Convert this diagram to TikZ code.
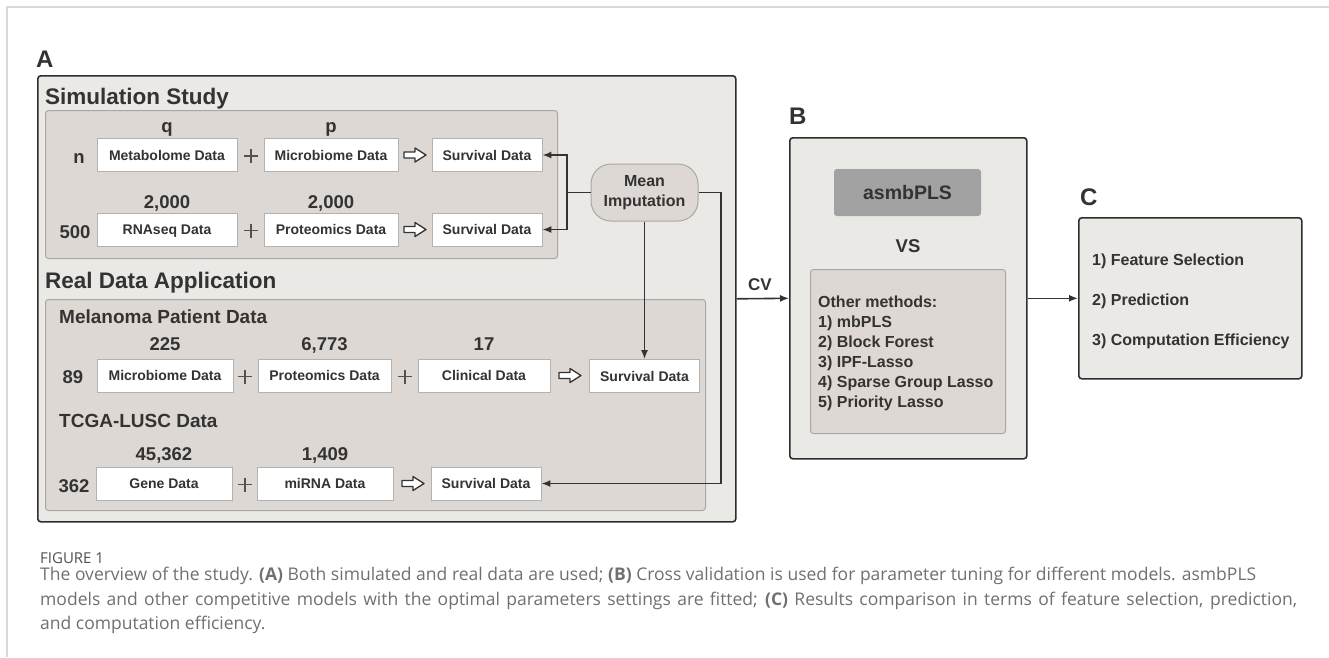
\documentclass[tikz,border=0pt]{standalone}
\usepackage{fontspec}
\setmainfont{Liberation Sans}
\newfontfamily\capfont{Open Sans}
\usetikzlibrary{arrows.meta}
\definecolor{panelbg}{HTML}{EBE9E6}
\definecolor{groupbg}{HTML}{DDD8D4}
\definecolor{groupline}{HTML}{A9A7A5}
\definecolor{darkline}{HTML}{2E2E2E}
\definecolor{txt}{HTML}{333333}
\definecolor{boxline}{HTML}{B2B2B2}
\definecolor{asmbfill}{HTML}{A2A2A2}
\definecolor{framegray}{HTML}{D9D9D9}
\definecolor{captxt}{HTML}{707070}
\definecolor{figtxt}{HTML}{505050}
\newcommand{\myfs}[1]{\fontsize{#1}{#1}\selectfont}
\tikzset{
  panel/.style={draw=darkline, line width=1.6pt, fill=panelbg, rounded corners=3pt, inner sep=0pt, anchor=north west},
  group/.style={draw=groupline, line width=1pt, fill=groupbg, rounded corners=3pt, inner sep=0pt, anchor=north west},
  databox/.style={draw=boxline, line width=0.8pt, fill=white, inner sep=0pt, minimum height=33pt,
    text height=10.2pt, text depth=0pt, text=txt, font=\bfseries\myfs{14}},
  lbl/.style={font=\bfseries\myfs{24}, text=txt, inner sep=0pt, anchor=base west},
  hdr/.style={font=\bfseries\myfs{22.5}, text=txt, inner sep=0pt, anchor=base west},
  subhdr/.style={font=\bfseries\myfs{19}, text=txt, inner sep=0pt, anchor=base west},
  num/.style={font=\bfseries\myfs{18.5}, text=txt, inner sep=0pt, anchor=base},
  item/.style={font=\bfseries\myfs{16}, text=txt, inner sep=0pt, anchor=base west},
  plusnode/.style={minimum size=14pt, inner sep=0pt,
    path picture={\draw[line width=1.1pt, txt!85]
      (path picture bounding box.north) -- (path picture bounding box.south)
      (path picture bounding box.west) -- (path picture bounding box.east);}},
  hollow/.style={minimum width=28pt, minimum height=20pt, inner sep=0pt,
    path picture={\draw[draw=txt, fill=white, line width=1.3pt, line join=round]
      ([xshift=-11pt,yshift=-3pt]path picture bounding box.center) --
      ([xshift=0pt,yshift=-3pt]path picture bounding box.center) --
      ([xshift=0pt,yshift=-7pt]path picture bounding box.center) --
      ([xshift=11pt,yshift=0pt]path picture bounding box.center) --
      ([xshift=0pt,yshift=7pt]path picture bounding box.center) --
      ([xshift=0pt,yshift=3pt]path picture bounding box.center) --
      ([xshift=-11pt,yshift=3pt]path picture bounding box.center) -- cycle;}},
  plainline/.style={draw=txt, line width=1.6pt},
  conn/.style={draw=txt, line width=1.6pt, -{Latex[length=9pt,width=7pt]}},
  capline/.style={font=\capfont\myfs{17.5}, text=captxt, inner sep=0pt, anchor=base west}
}
\begin{document}
\begin{tikzpicture}[x=1pt,y=-1pt]
\useasboundingbox[fill=white] (0,0) rectangle (1329,657);
% page frame
\draw[framegray, line width=1.5pt] (7,657) -- (7,7) -- (1329,7);

% ---------------- Panel A ----------------
\node[lbl] (labA) at (36,67) {A};
\node[panel, minimum width=698pt, minimum height=446pt] (panA) at (37,75) {};
\node[hdr] (simhdr) at (45,104) {Simulation Study};
\node[group, minimum width=512pt, minimum height=148pt] (simbox) at (45,110) {};

% row 1
\node[num] (nq) at (167,132) {q};
\node[num] (np) at (331,132) {p};
\node[num] (nn) at (79,163) {n};
\node[databox, minimum width=140pt] (m1) at (167,155) {Metabolome Data};
\node[plusnode] (p1) at (251,156) {};
\node[databox, minimum width=134pt] (m2) at (331,155) {Microbiome Data};
\node[hollow] (h1) at (415,155) {};
\node[databox, minimum width=110pt] (s1) at (487,155) {Survival Data};

% row 2
\node[num] (n2a) at (167,208) {2,000};
\node[num] (n2b) at (331,208) {2,000};
\node[num] (n500) at (75,238) {500};
\node[databox, minimum width=140pt] (r1) at (167,229.5) {RNAseq Data};
\node[plusnode] (p2) at (251,230.5) {};
\node[databox, minimum width=134pt] (r2) at (331,229.5) {Proteomics Data};
\node[hollow] (h2) at (415,229.5) {};
\node[databox, minimum width=110pt] (s2) at (487,229.5) {Survival Data};

% mean imputation
\node[draw=groupline, line width=1pt, fill=groupbg, rounded corners=20pt, minimum width=107pt,
  minimum height=57pt, inner sep=0pt, align=center, text=txt,
  font=\bfseries\fontsize{16}{20}\selectfont] (mi) at (644.5,192.5) {Mean\\Imputation};

% real data
\node[hdr] (realhdr) at (45,288) {Real Data Application};
\node[group, minimum width=660pt, minimum height=211pt] (realbox) at (45,299) {};
\node[subhdr] (melhdr) at (59,323) {Melanoma Patient Data};
\node[num] (n225) at (165,350) {225};
\node[num] (n6773) at (324.5,350) {6,773};
\node[num] (n17) at (484,350) {17};
\node[num] (n89) at (73,383.5) {89};
\node[databox, minimum width=136pt] (mb) at (165,375.5) {Microbiome Data};
\node[plusnode] (p3) at (245,376.5) {};
\node[databox, minimum width=133pt] (pr) at (324.5,375.5) {Proteomics Data};
\node[plusnode] (p4) at (405,376.5) {};
\node[databox, minimum width=132pt] (cl) at (484,375.5) {Clinical Data};
\node[hollow] (h3) at (570,375.5) {};
\node[databox, minimum width=110pt] (s3) at (644.5,376) {Survival Data};

\node[subhdr] (tcgahdr) at (59,427) {TCGA-LUSC Data};
\node[num] (n45362) at (164,460) {45,362};
\node[num] (n1409) at (325,460) {1,409};
\node[num] (n362) at (74,492) {362};
\node[databox, minimum width=136pt] (ge) at (164,483.5) {Gene Data};
\node[plusnode] (p5) at (245,484.5) {};
\node[databox, minimum width=136pt] (mir) at (325,483.5) {miRNA Data};
\node[hollow] (h4) at (413,483.5) {};
\node[databox, minimum width=110pt] (s4) at (486,483.5) {Survival Data};

% connectors from mean imputation
\coordinate (j1) at (567,192.5);
\coordinate (j2) at (721,192.5);
\draw[plainline] (mi.west) -- (j1);
\draw[conn] (j1) |- (s1.east);
\draw[conn] (j1) |- (s2.east);
\draw[conn] (mi.south) -- (s3.north);
\draw[conn] (mi.east) -- (j2) |- (s4.east);

% ---------------- Panel B ----------------
\node[lbl] (labB) at (789,124) {B};
\node[panel, minimum width=237pt, minimum height=321pt] (panB) at (789,137) {};
\node[fill=asmbfill, rounded corners=3pt, minimum width=147pt, minimum height=47pt, inner sep=0pt,
  text=txt, font=\bfseries\myfs{19.5}] (asmb) at (907.5,192.5) {asmbPLS};
\node[num, anchor=center] (vs) at (908,246) {VS};
\node[group, minimum width=195pt, minimum height=164pt] (other) at (810,269) {};
\node[item] (o0) at (818,307) {Other methods:};
\node[item] (o1) at (818,327) {1) mbPLS};
\node[item] (o2) at (818,347) {2) Block Forest};
\node[item] (o3) at (818,367) {3) IPF-Lasso};
\node[item] (o4) at (818,387) {4) Sparse Group Lasso};
\node[item] (o5) at (818,407) {5) Priority Lasso};

% CV arrow
\draw[conn] (panA.east) -- (panB.west);
\node[font=\bfseries\myfs{17}, text=txt, inner sep=0pt, anchor=base] (cv) at (760,290) {CV};

% ---------------- Panel C ----------------
\node[lbl] (labC) at (1080,205) {C};
\node[panel, minimum width=223pt, minimum height=161pt] (panC) at (1078,217) {};
\node[item] (c1) at (1092,265) {1) Feature Selection};
\node[item] (c2) at (1092,305) {2) Prediction};
\node[item] (c3) at (1092,345) {3) Computation Efficiency};
\draw[conn] (panB.east) -- (panC.west);

% ---------------- Caption ----------------
\node[font=\capfont\myfs{15}, text=figtxt, inner sep=0pt, anchor=base west] (figlbl) at (40,563) {FIGURE 1};
\node[capline] (cap1) at (40,580) {\makebox[1216pt][s]{The overview of the study. \textbf{(A)} Both simulated and real data are used; \textbf{(B)} Cross validation is used for parameter tuning for different models. asmbPLS}};
\node[capline] (cap2) at (40,605) {\makebox[1257pt][s]{models and other competitive models with the optimal parameters settings are fitted; \textbf{(C)} Results comparison in terms of feature selection, prediction,}};
\node[capline] (cap3) at (40,629) {and computation efficiency.};
\end{tikzpicture}
\end{document}
